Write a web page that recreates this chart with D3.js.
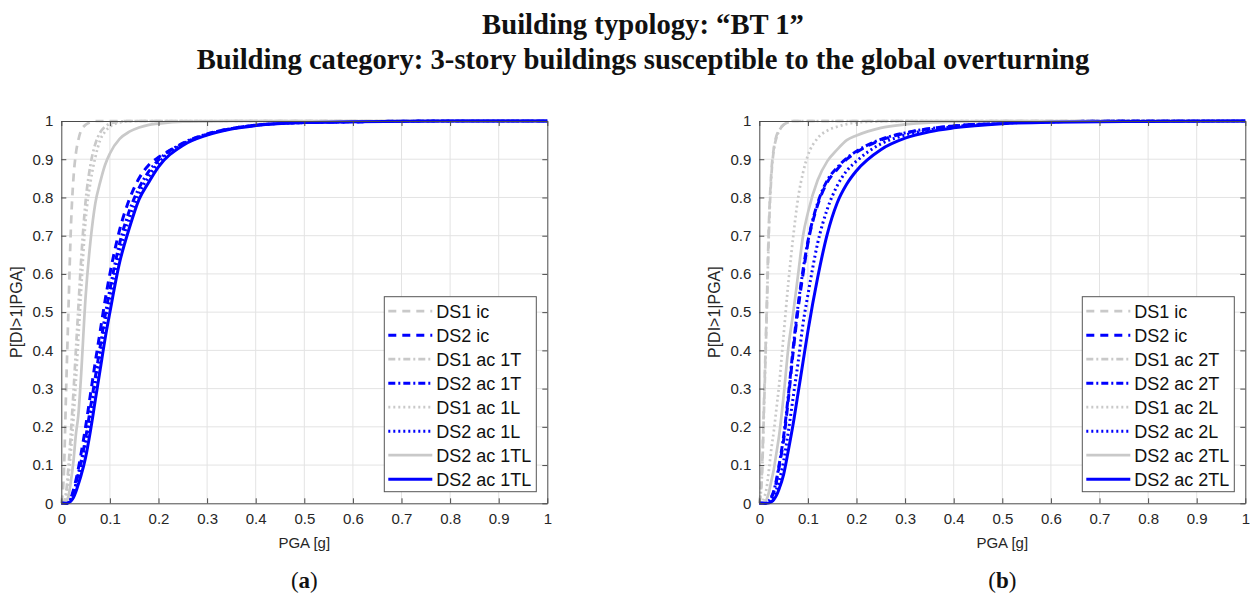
<!DOCTYPE html>
<meta charset="utf-8">
<script src="https://d3js.org/d3.v7.min.js"></script>
<style>
  body { margin: 0; background: #fff; }
</style>
<div id="chart"></div>
<script>
// PGA grid [g], shared by every curve
var pga = [0, 0.005, 0.01, 0.015, 0.02, 0.025, 0.03, 0.035, 0.04,
           0.05, 0.06, 0.07, 0.08, 0.09, 0.1,
           0.12, 0.14, 0.16, 0.18, 0.2,
           0.25, 0.3, 0.35, 0.4,
           0.5, 0.6, 0.8, 1.0];

var xTicks = [0, 0.1, 0.2, 0.3, 0.4, 0.5, 0.6, 0.7, 0.8, 0.9, 1];
var yTicks = [0, 0.1, 0.2, 0.3, 0.4, 0.5, 0.6, 0.7, 0.8, 0.9, 1];

// panel (a)
var namesA = ["DS1 ic", "DS2 ic", "DS1 ac 1T", "DS2 ac 1T", "DS1 ac 1L", "DS2 ac 1L", "DS2 ac 1TL", "DS2 ac 1TL"];
var a_ds1_ic    = [0, 0.07, 0.30, 0.52, 0.73, 0.85, 0.915, 0.95, 0.973, 0.99, 0.997, 1, 1, 1, 1, 1, 1, 1, 1, 1, 1, 1, 1, 1, 1, 1, 1, 1];
var a_ds2_ic    = [0, 0, 0, 0.003, 0.015, 0.035, 0.06, 0.09, 0.125, 0.20, 0.285, 0.37, 0.45, 0.53, 0.60, 0.715, 0.795, 0.85, 0.885, 0.905, 0.94, 0.965, 0.98, 0.989, 0.996, 0.998, 1, 1];
var a_ds1_1T    = [0, 0.003, 0.03, 0.10, 0.19, 0.29, 0.40, 0.51, 0.62, 0.79, 0.885, 0.94, 0.97, 0.985, 0.993, 0.998, 1, 1, 1, 1, 1, 1, 1, 1, 1, 1, 1, 1];
var a_ds2_1T    = [0, 0, 0, 0.004, 0.013, 0.028, 0.05, 0.078, 0.105, 0.17, 0.25, 0.33, 0.41, 0.49, 0.56, 0.68, 0.765, 0.825, 0.868, 0.898, 0.942, 0.966, 0.98, 0.989, 0.996, 0.998, 1, 1];
var a_ds1_1L    = [0, 0.002, 0.02, 0.07, 0.14, 0.22, 0.32, 0.43, 0.54, 0.74, 0.84, 0.905, 0.95, 0.972, 0.985, 0.996, 0.999, 1, 1, 1, 1, 1, 1, 1, 1, 1, 1, 1];
var a_ds2_1L    = [0, 0, 0, 0.004, 0.012, 0.025, 0.045, 0.07, 0.095, 0.155, 0.23, 0.31, 0.39, 0.47, 0.54, 0.66, 0.745, 0.81, 0.855, 0.89, 0.94, 0.965, 0.98, 0.989, 0.996, 0.998, 1, 1];
var a_gray_1TL  = [0, 0, 0.005, 0.02, 0.06, 0.11, 0.18, 0.23, 0.32, 0.54, 0.685, 0.785, 0.84, 0.885, 0.915, 0.953, 0.972, 0.983, 0.99, 0.993, 0.998, 0.999, 1, 1, 1, 1, 1, 1];
var a_blue_1TL  = [0, 0, 0, 0.002, 0.006, 0.015, 0.03, 0.05, 0.07, 0.12, 0.19, 0.27, 0.35, 0.43, 0.50, 0.63, 0.72, 0.795, 0.84, 0.88, 0.936, 0.963, 0.979, 0.988, 0.996, 0.998, 1, 1];

// panel (b)
var namesB = ["DS1 ic", "DS2 ic", "DS1 ac 2T", "DS2 ac 2T", "DS1 ac 2L", "DS2 ac 2L", "DS2 ac 2TL", "DS2 ac 2TL"];
var b_ds1_ic    = [0, 0.07, 0.28, 0.50, 0.74, 0.87, 0.93, 0.96, 0.975, 0.99, 0.997, 1, 1, 1, 1, 1, 1, 1, 1, 1, 1, 1, 1, 1, 1, 1, 1, 1];
var b_ds2_ic    = [0, 0, 0, 0.002, 0.006, 0.015, 0.03, 0.055, 0.09, 0.165, 0.275, 0.40, 0.51, 0.60, 0.68, 0.78, 0.84, 0.873, 0.90, 0.918, 0.95, 0.968, 0.98, 0.987, 0.995, 0.998, 1, 1];
var b_ds1_2T    = [0, 0.06, 0.26, 0.48, 0.72, 0.86, 0.925, 0.955, 0.972, 0.99, 0.997, 1, 1, 1, 1, 1, 1, 1, 1, 1, 1, 1, 1, 1, 1, 1, 1, 1];
var b_ds2_2T    = [0, 0, 0, 0.002, 0.007, 0.017, 0.033, 0.06, 0.095, 0.175, 0.285, 0.41, 0.52, 0.61, 0.685, 0.785, 0.845, 0.878, 0.903, 0.921, 0.952, 0.969, 0.98, 0.987, 0.995, 0.998, 1, 1];
var b_ds1_2L    = [0, 0.002, 0.015, 0.04, 0.09, 0.145, 0.19, 0.245, 0.30, 0.44, 0.58, 0.70, 0.80, 0.865, 0.91, 0.955, 0.975, 0.985, 0.992, 0.996, 0.999, 1, 1, 1, 1, 1, 1, 1];
var b_ds2_2L    = [0, 0, 0, 0.001, 0.003, 0.008, 0.018, 0.035, 0.055, 0.11, 0.19, 0.28, 0.37, 0.47, 0.545, 0.68, 0.77, 0.83, 0.87, 0.895, 0.94, 0.963, 0.977, 0.985, 0.994, 0.998, 1, 1];
var b_gray_2TL  = [0, 0, 0.002, 0.01, 0.03, 0.06, 0.09, 0.13, 0.17, 0.28, 0.41, 0.50, 0.60, 0.70, 0.76, 0.845, 0.895, 0.925, 0.95, 0.962, 0.982, 0.991, 0.996, 0.998, 1, 1, 1, 1];
var b_blue_2TL  = [0, 0, 0, 0, 0.001, 0.004, 0.01, 0.02, 0.035, 0.075, 0.14, 0.21, 0.29, 0.37, 0.45, 0.59, 0.705, 0.785, 0.835, 0.87, 0.925, 0.955, 0.972, 0.982, 0.993, 0.997, 0.999, 1];

// line look for the 8 series, same order as the legend
var gray = "#c9c9c9", blue = "#0000ff";
var styles = [
  {color: gray, dash: "8,6",     w: 2.7},
  {color: blue, dash: "8,6",     w: 3},
  {color: gray, dash: "7,3,2,3", w: 2.7},
  {color: blue, dash: "7,3,2,3", w: 3},
  {color: gray, dash: "2,3",     w: 2.7},
  {color: blue, dash: "2,3",     w: 3},
  {color: gray, dash: null,      w: 2.7},
  {color: blue, dash: null,      w: 3}
];

var W = 1251, H = 596;
var svg = d3.select("#chart").append("svg")
    .attr("width", W).attr("height", H)
    .style("font-family", "Arial, 'Liberation Sans', sans-serif");

// titles
var titleFont = "'Palatino Linotype', Palatino, 'Book Antiqua', 'Liberation Serif', serif";
var t1 = svg.append("text").attr("x", 643).attr("y", 34)
    .attr("text-anchor", "middle").style("font-family", titleFont)
    .style("font-weight", "bold").style("font-size", "25px").attr("fill", "#111")
    .text("Building typology: \u201cBT 1\u201d");
var t2 = svg.append("text").attr("x", 643).attr("y", 69)
    .attr("text-anchor", "middle").style("font-family", titleFont)
    .style("font-weight", "bold").style("font-size", "25px").attr("fill", "#111")
    .text("Building category: 3-story buildings susceptible to the global overturning");
// fit line 2 to the width it has in the figure
var w2 = t2.node().getComputedTextLength();
var fs = 25 * 893 / w2;
t1.style("font-size", fs + "px");
t2.style("font-size", fs + "px");

function drawPanel(x0, names, series, tag) {
  var width = 486, top = 121, bottom = 503.3;
  var x = d3.scaleLinear().domain([0, 1]).range([x0, x0 + width]);
  var y = d3.scaleLinear().domain([0, 1]).range([bottom, top]);
  var g = svg.append("g");

  // grid
  g.append("g").selectAll("line").data(xTicks.slice(1, -1)).enter().append("line")
    .attr("x1", d => x(d)).attr("x2", d => x(d)).attr("y1", top).attr("y2", bottom)
    .attr("stroke", "#e3e3e3").attr("stroke-width", 1);
  g.append("g").selectAll("line").data(yTicks.slice(1, -1)).enter().append("line")
    .attr("y1", d => y(d)).attr("y2", d => y(d)).attr("x1", x0).attr("x2", x0 + width)
    .attr("stroke", "#e3e3e3").attr("stroke-width", 1);

  // curves
  var line = d3.line().x((d, i) => x(pga[i])).y(d => y(d)).curve(d3.curveMonotoneX);
  series.forEach(function(s, i) {
    g.append("path").datum(s).attr("d", line)
      .attr("fill", "none").attr("stroke", styles[i].color)
      .attr("stroke-width", styles[i].w)
      .attr("stroke-dasharray", styles[i].dash);
  });

  // axes, ticks pointing inwards on all four sides
  var axCol = "#4a4a4a";
  var xb = g.append("g").attr("transform", "translate(0," + bottom + ")")
    .call(d3.axisBottom(x).tickValues(xTicks).tickFormat(d3.format("")).tickSizeInner(-5).tickSizeOuter(0).tickPadding(10));
  var yl = g.append("g").attr("transform", "translate(" + x0 + ",0)")
    .call(d3.axisLeft(y).tickValues(yTicks).tickFormat(d3.format("")).tickSizeInner(-5).tickSizeOuter(0).tickPadding(8));
  var xt = g.append("g").attr("transform", "translate(0," + top + ")")
    .call(d3.axisTop(x).tickValues(xTicks).tickFormat("").tickSizeInner(-5).tickSizeOuter(0));
  var yr = g.append("g").attr("transform", "translate(" + (x0 + width) + ",0)")
    .call(d3.axisRight(y).tickValues(yTicks).tickFormat("").tickSizeInner(-5).tickSizeOuter(0));
  [xb, yl, xt, yr].forEach(function(a) {
    a.select(".domain").attr("stroke", axCol);
    a.selectAll(".tick line").attr("stroke", axCol);
    a.selectAll("text").attr("fill", "#262626").style("font-size", "15px")
      .style("font-family", "Arial, 'Liberation Sans', sans-serif");
  });

  // axis labels
  g.append("text").attr("x", x0 + width / 2).attr("y", 548).attr("text-anchor", "middle")
    .style("font-size", "15px").attr("fill", "#262626").text("PGA [g]");
  g.append("text").attr("transform", "translate(" + (x0 - 39) + "," + ((top + bottom) / 2) + ") rotate(-90)")
    .attr("text-anchor", "middle").style("font-size", "16px").attr("fill", "#262626")
    .text("P[DI>1|PGA]");

  // legend
  var lx = x0 + 323, ly = 296.7, lw = 152, lh = 195;
  var leg = g.append("g");
  leg.append("rect").attr("x", lx).attr("y", ly).attr("width", lw).attr("height", lh)
    .attr("fill", "#fff").attr("stroke", "#555").attr("stroke-width", 1);
  names.forEach(function(n, i) {
    var yy = ly + 14.5 + i * 24;
    leg.append("line").attr("x1", lx + 4).attr("x2", lx + 48).attr("y1", yy).attr("y2", yy)
      .attr("stroke", styles[i].color).attr("stroke-width", styles[i].w)
      .attr("stroke-dasharray", styles[i].dash);
    leg.append("text").attr("x", lx + 52).attr("y", yy + 6.5)
      .style("font-size", "18px").attr("fill", "#111").text(n);
  });

  // panel tag
  var tg = svg.append("text").attr("x", x0 + width / 2).attr("y", 588).attr("text-anchor", "middle")
    .style("font-family", titleFont).style("font-size", "23px").attr("fill", "#111");
  tg.append("tspan").text("(");
  tg.append("tspan").style("font-weight", "bold").text(tag);
  tg.append("tspan").text(")");
}

drawPanel(61.3, namesA, [a_ds1_ic, a_ds2_ic, a_ds1_1T, a_ds2_1T, a_ds1_1L, a_ds2_1L, a_gray_1TL, a_blue_1TL], "a");
drawPanel(759.3, namesB, [b_ds1_ic, b_ds2_ic, b_ds1_2T, b_ds2_2T, b_ds1_2L, b_ds2_2L, b_gray_2TL, b_blue_2TL], "b");
</script>
